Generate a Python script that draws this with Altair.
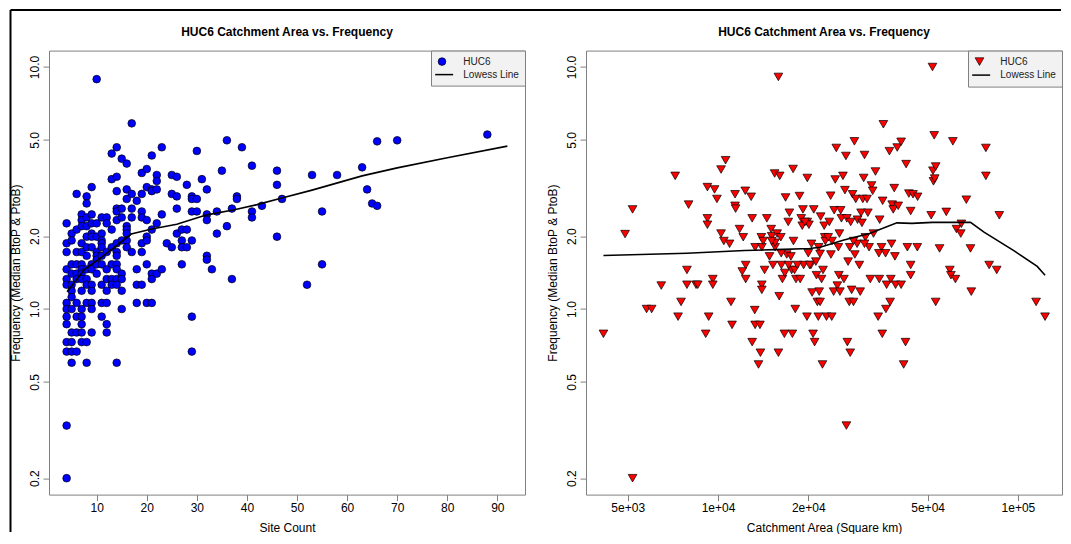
import altair as alt
import pandas as pd

FONT = "Liberation Sans"
TITLE = "HUC6 Catchment Area vs. Frequency"
Y_TITLE = "Frequency (Median BtoP & PtoB)"
legend_labels = ["HUC6", "Lowess Line"]

y_ticks = [0.2, 0.5, 1.0, 2.0, 5.0, 10.0]
left_x_ticks = [10, 20, 30, 40, 50, 60, 70, 80, 90]
right_x_ticks = [5000, 10000, 20000, 50000, 100000]

# ---------------- left panel: site count vs frequency ----------------
left_site_count = [
    4, 4, 4, 4, 4, 4, 4, 4, 4, 4, 4, 4, 4, 4,
    5, 5, 5, 5, 5, 5, 5, 5, 5, 5, 5, 5,
    6, 6, 6, 6, 6, 6, 6, 6, 6, 6,
    7, 7, 7, 7, 7, 7, 7, 7, 7, 7, 7, 7, 7, 7, 7,
    8, 8, 8, 8, 8, 8, 8, 8, 8, 8, 8, 8, 8,
    9, 9, 9, 9, 9, 9, 9, 9, 9, 9, 9, 9, 9,
    10, 10, 10, 10, 10, 10, 10, 10,
    11, 11, 11, 11, 11, 11, 11, 11, 11, 11,
    12, 12, 12, 12, 12, 12, 12, 12, 12,
    13, 13, 13, 13, 13, 13, 13,
    14, 14, 14, 14, 14, 14, 14, 14, 14, 14, 14, 14, 14, 14,
    15, 15, 15, 15, 15, 15, 15, 15,
    16, 16, 16, 16, 16, 16, 16, 16,
    17, 17, 17, 17, 17,
    18, 18, 18, 18,
    19, 19, 19, 19, 19, 19, 19,
    20, 20, 20, 20, 20, 20, 20,
    21, 21, 21, 21, 21, 21, 21,
    22, 22, 22, 22, 22,
    23, 23, 23,
    24,
    25, 25, 25,
    26, 26, 26, 26,
    27, 27, 27, 27,
    28, 28, 28,
    29, 29, 29, 29, 29, 29,
    30, 30, 30,
    31,
    32, 32, 32, 32, 32,
    33,
    34, 34,
    35,
    36, 36,
    37, 37,
    38, 38,
    39,
    41, 41, 41,
    43,
    46, 46, 46,
    47,
    52, 53, 55, 55, 58, 63, 64, 65, 66, 66, 70, 88,
]
left_freq = [
    2.26, 1.87, 1.72, 1.46, 1.33, 1.26, 1.06, 1.0, 0.93, 0.866, 0.73, 0.667, 0.33, 0.20,
    2.05, 1.92, 1.53, 1.40, 1.26, 1.19, 1.12, 1.0, 0.80, 0.73, 0.667, 0.60,
    2.99, 2.13, 1.72, 1.53, 1.40, 1.33, 1.06, 0.93, 0.80, 0.667,
    2.46, 2.33, 2.2, 1.87, 1.72, 1.53, 1.46, 1.40, 1.33, 1.19, 1.0, 0.93, 0.866, 0.80, 0.73,
    2.92, 2.73, 2.39, 2.2, 1.99, 1.80, 1.66, 1.46, 1.33, 1.26, 1.06, 0.73, 0.60,
    3.19, 2.46, 2.26, 2.05, 1.99, 1.80, 1.53, 1.46, 1.26, 1.19, 1.06, 1.0, 0.80,
    8.91, 2.26, 1.99, 1.72, 1.66, 1.60, 1.53, 1.40,
    2.39, 2.05, 1.92, 1.87, 1.80, 1.66, 1.53, 1.26, 1.06, 0.93,
    2.39, 2.26, 1.72, 1.46, 1.33, 1.19, 1.06, 0.866, 0.80,
    4.39, 3.44, 2.13, 1.80, 1.53, 1.33, 1.26,
    4.66, 3.52, 3.07, 2.60, 2.53, 2.33, 1.87, 1.72, 1.66, 1.53, 1.46, 1.33, 1.26, 0.60,
    4.18, 2.60, 2.39, 1.92, 1.40, 1.33, 1.19, 1.0,
    3.99, 3.12, 2.85, 2.2, 2.13, 2.05, 1.92, 1.80,
    5.85, 2.99, 2.60, 2.39, 1.72,
    2.80, 1.46, 1.26, 1.06,
    3.65, 2.99, 2.53, 2.39, 1.87, 1.72, 1.26,
    3.79, 3.19, 2.33, 1.99, 1.92, 1.53, 1.06,
    4.31, 3.12, 3.07, 2.13, 1.40, 1.33, 1.06,
    3.58, 3.38, 3.12, 2.26, 1.40,
    4.66, 2.46, 1.46,
    1.87,
    3.58, 2.99, 1.80,
    3.52, 2.92, 2.60, 2.05,
    2.13, 1.92, 1.80, 1.53,
    3.26, 2.13, 1.80,
    2.92, 2.85, 2.53, 1.92, 0.93, 0.667,
    4.5, 2.85, 2.53,
    3.44,
    3.12, 2.46, 2.33, 1.66, 1.60,
    1.46,
    2.53, 2.05,
    3.73,
    4.98, 2.2,
    2.60, 1.33,
    2.92, 2.85,
    4.66,
    3.91, 2.53, 2.39,
    2.67,
    3.73, 3.26, 1.99,
    2.85,
    1.26, 3.58, 2.53, 1.53, 3.58, 3.85, 3.12, 2.73, 4.93, 2.67, 4.98, 5.26,
]
left_lowess_x = [4.1, 7.6, 11, 14.3, 16.9, 21, 26, 32, 37.5, 42, 46.8, 53, 63, 70, 80, 92]
left_lowess_y = [1.18, 1.46, 1.64, 1.85, 2.04, 2.14, 2.24, 2.45, 2.57, 2.70, 2.87, 3.10, 3.55, 3.83, 4.22, 4.71]

# ---------------- right panel: catchment area vs frequency ----------------
right_area = [
    4150, 4900, 5190, 5190, 5780, 6010, 6470, 7200, 7360, 7530,
    7880, 7980, 7880, 8450, 8560, 9100, 9220, 9220, 9220, 9310,
    9610, 9610, 9740, 9920, 10240, 10240, 10460, 10600, 10930, 11050,
    11140, 11400, 11400, 11450, 11800, 12050, 12140, 12330, 12370, 12370,
    12900, 13000, 13000, 13260, 13300, 13300, 13650, 13800, 13850, 13950,
    14000, 14000, 14000, 14300, 14550, 14850, 15050, 15100, 15250, 15450,
    15500, 15750, 15900, 15900, 16000, 16060, 16200, 16270, 16400, 16650,
    16700, 16800, 16950, 17150, 17300, 17500, 17600, 17700, 17800, 17850,
    18100, 18200, 18700, 18800, 18950, 19100, 19200, 19300, 19800, 19850,
    19850, 20000, 20100, 20400, 20500, 20600, 20750, 20860, 21000, 21200,
    21300, 21450, 21600, 21650, 21750, 21900, 22000, 22150, 22300, 22400,
    22600, 22700, 23000, 23500, 23750, 23950, 24000, 24300, 24400, 24600,
    24800, 25000, 25200, 25300, 25400, 25500, 25650, 25800, 26100, 26300,
    26500, 26700, 26800, 26900, 27000, 27150, 27400, 27500, 27600, 27700,
    27900, 28100, 28300, 28500, 28600, 28800, 29100, 29200, 29600, 29800,
    30000, 30200, 30400, 30600, 30800, 31000, 31400, 31600, 31900, 32200,
    32500, 32800, 33000, 33500, 34200, 34400, 34500, 34600, 35100, 35300,
    35400, 35600, 36200, 36300, 36500, 37300, 37500, 37700, 37900, 38100,
    38400, 38700, 38900, 39100, 39600, 39900, 40800, 40800, 41600, 42200,
    42400, 42800, 43300, 43900, 43900, 43900, 44700, 46200, 46300, 51400,
    51900, 52100, 52300, 52600, 52800, 53200, 53200, 54800, 57700, 59300,
    59800, 60700, 61900, 62400, 64500, 64800, 67300, 69500, 69900, 78200,
    78200, 80200, 85000, 86700, 115000, 123200, 16250, 17200, 18000, 18400,
    19500, 20200, 21900, 22800, 23300, 23800, 15500, 14150, 15100, 28300, 30800,
]
right_freq = [
    0.79, 2.04, 2.58, 0.20, 1.00, 1.00, 1.25, 3.55, 0.93, 1.07,
    1.45, 2.70, 1.26, 1.26, 1.26, 0.79, 3.19, 2.37, 2.23, 0.93,
    1.33, 1.26, 3.12, 2.85, 2.05, 3.77, 1.91, 4.12, 1.86, 1.07,
    0.86, 2.98, 2.67, 2.60, 2.14, 1.43, 1.98, 3.08, 1.52, 1.33,
    2.91, 2.37, 0.73, 0.99, 1.80, 0.86, 0.59, 0.86, 0.66, 1.98,
    1.26, 1.20, 1.80, 1.45, 2.37, 1.65, 2.14, 2.00, 1.52, 3.63,
    1.80, 2.05, 0.66, 9.10, 1.13, 3.55, 1.98, 1.52, 1.33, 0.79,
    1.41, 2.89, 1.68, 2.29, 2.50, 1.65, 1.45, 0.79, 3.79, 1.91,
    1.00, 1.33, 2.93, 1.33, 2.37, 2.21, 2.58, 1.52, 0.93, 3.48,
    2.29, 1.70, 2.23, 1.52, 1.86, 1.17, 0.79, 2.58, 0.73, 1.57,
    1.38, 1.07, 0.93, 1.80, 1.18, 1.07, 2.41, 1.33, 0.59, 1.45,
    2.21, 1.98, 0.93, 2.29, 2.94, 0.93, 1.91, 1.18, 2.56, 3.43,
    4.63, 1.25, 1.80, 1.38, 2.05, 1.18, 2.56, 2.37, 3.55, 1.33,
    3.10, 4.29, 0.33, 2.37, 0.73, 1.57, 1.07, 1.80, 0.66, 2.29,
    1.20, 2.98, 1.07, 4.93, 1.68, 2.85, 1.86, 2.34, 1.52, 1.18,
    2.50, 2.27, 2.85, 3.48, 4.33, 1.98, 2.85, 2.50, 1.80, 1.33,
    3.24, 3.08, 2.05, 3.70, 0.93, 1.70, 1.33, 2.34, 1.80, 0.79,
    2.80, 5.80, 1.70, 1.00, 1.26, 4.49, 1.07, 1.33, 1.86, 2.70,
    2.58, 3.16, 1.65, 1.26, 4.65, 2.67, 4.91, 1.26, 0.59, 0.73,
    3.97, 1.80, 3.00, 2.54, 1.52, 1.38, 2.98, 1.80, 2.91, 2.44,
    10.0, 3.73, 3.37, 5.22, 3.46, 3.88, 1.07, 1.78, 2.52, 1.45,
    1.38, 4.93, 1.33, 2.14, 2.05, 2.25, 2.83, 1.78, 1.18, 4.63,
    3.55, 1.52, 1.45, 2.44, 1.07, 0.93, 1.70, 1.52, 1.45, 1.52,
    2.29, 1.52, 1.69, 1.91, 1.98, 1.68, 1.88, 1.91, 1.91, 1.91, 1.86,
]
right_lowess_x = [4150, 7880, 12270, 15550, 20200, 21900, 26300, 32000, 39500,
                  44300, 51900, 69500, 77100, 97800, 116000, 123200]
right_lowess_y = [1.665, 1.70, 1.745, 1.76, 1.78, 1.80, 1.93, 2.05, 2.27,
                  2.26, 2.28, 2.28, 2.08, 1.73, 1.50, 1.38]

left_pts = pd.DataFrame({"x": left_site_count, "y": left_freq, "series": "HUC6"})
left_line = pd.DataFrame({"x": left_lowess_x, "y": left_lowess_y})
right_pts = pd.DataFrame({"x": right_area, "y": right_freq, "series": "HUC6"})
right_line = pd.DataFrame({"x": right_lowess_x, "y": right_lowess_y})

W, H = 476, 444
y_scale = alt.Scale(type="log", domain=[0.1711, 11.69], nice=False)
left_x_scale = alt.Scale(domain=[0.48, 95.52], nice=False, zero=False)
right_x_scale = alt.Scale(type="log", domain=[3630, 140300], nice=False)


def y_axis():
    return alt.Axis(title=Y_TITLE, values=y_ticks, format=".1f", labelAngle=270,
                    labelAlign="center", labelBaseline="alphabetic", labelPadding=5,
                    titleX=-26.7, titleBaseline="bottom")


def legend(size, offset):
    return alt.Legend(title=None, orient="top-right", offset=0, padding=6,
                      fillColor="#f2f2f2", strokeColor="#808080",
                      labelFont=FONT, labelFontSize=10, labelColor="#222222",
                      labelOffset=offset, rowPadding=2, symbolSize=size)


def legend_channels(shape_range, size, offset):
    lg = legend(size, offset)
    return dict(
        shape=alt.Shape("series:N", scale=alt.Scale(domain=legend_labels, range=shape_range),
                        legend=lg),
        stroke=alt.Stroke("series:N", scale=alt.Scale(domain=legend_labels, range=["black", "black"]),
                          legend=lg),
        strokeWidth=alt.StrokeWidth("series:N", scale=alt.Scale(domain=legend_labels, range=[0.7, 1.5]),
                                    legend=lg),
    )


title_params = dict(fontSize=12, font=FONT, fontWeight="bold", anchor="middle",
                    offset=11, color="black")

left_points = alt.Chart(left_pts).mark_point(
    filled=True, size=59, fill="#0000ff", opacity=1
).encode(
    x=alt.X("x:Q", scale=left_x_scale,
            axis=alt.Axis(title="Site Count", values=left_x_ticks, format="d",
                          labelPadding=2, titleY=27.7, titleBaseline="top")),
    y=alt.Y("y:Q", scale=y_scale, axis=y_axis()),
    **legend_channels(["circle", "M-1.78,0H2.9"], 59, 16.3),
)
left_lowess = alt.Chart(left_line).mark_line(color="black", strokeWidth=1.6).encode(
    x=alt.X("x:Q", scale=left_x_scale),
    y=alt.Y("y:Q", scale=y_scale),
)
left = alt.layer(left_points, left_lowess).properties(
    width=W, height=H, title=alt.TitleParams(TITLE, **title_params))

right_points = alt.Chart(right_pts).mark_point(
    filled=True, size=76, fill="#ff0000", opacity=1
).encode(
    x=alt.X("x:Q", scale=right_x_scale,
            axis=alt.Axis(title="Catchment Area (Square km)", values=right_x_ticks,
                          labelExpr="replace(format(datum.value, '.0e'), '+', '+0')",
                          labelPadding=2, titleY=27.7, titleBaseline="top")),
    y=alt.Y("y:Q", scale=y_scale, axis=y_axis()),
    **legend_channels(["triangle-down", "M-1.68,0H2.44"], 76, 15.3),
)
right_lowess = alt.Chart(right_line).mark_line(color="black", strokeWidth=1.6).encode(
    x=alt.X("x:Q", scale=right_x_scale),
    y=alt.Y("y:Q", scale=y_scale),
)
right = alt.layer(right_points, right_lowess).properties(
    width=W, height=H, title=alt.TitleParams(TITLE, **title_params))

panels = alt.hconcat(left, right, spacing=61, bounds="flush").resolve_scale(
    shape="independent", stroke="independent", strokeWidth="independent",
    x="independent", y="independent"
).resolve_legend(shape="independent", stroke="independent", strokeWidth="independent")

# screenshot frame lines (top and left edge)
frame = alt.Data(values=[{"k": 1}])
border_h = alt.Chart(frame).mark_rule(color="black", strokeWidth=2).encode(
    x=alt.value(-38.5), x2=alt.value(1012), y=alt.value(0))
border_v = alt.Chart(frame).mark_rule(color="black", strokeWidth=2).encode(
    x=alt.value(-38.5), y=alt.value(0), y2=alt.value(522))
border = alt.layer(border_h, border_v).properties(
    width=1, height=1, view=alt.ViewBackground(strokeOpacity=0))

chart = alt.vconcat(border, panels, spacing=39.6, bounds="flush").properties(
    padding={"left": 0, "top": 1, "right": 0, "bottom": 0}
).configure_view(
    stroke="#808080", strokeWidth=1
).configure_axis(
    labelFont=FONT, labelFontSize=12, labelColor="black",
    titleFont=FONT, titleFontSize=12, titleFontWeight="normal", titleColor="black",
    tickColor="#808080", tickSize=6, domain=False, grid=False,
)

chart.save("out.html", embed_options={"renderer": "svg", "actions": False})
